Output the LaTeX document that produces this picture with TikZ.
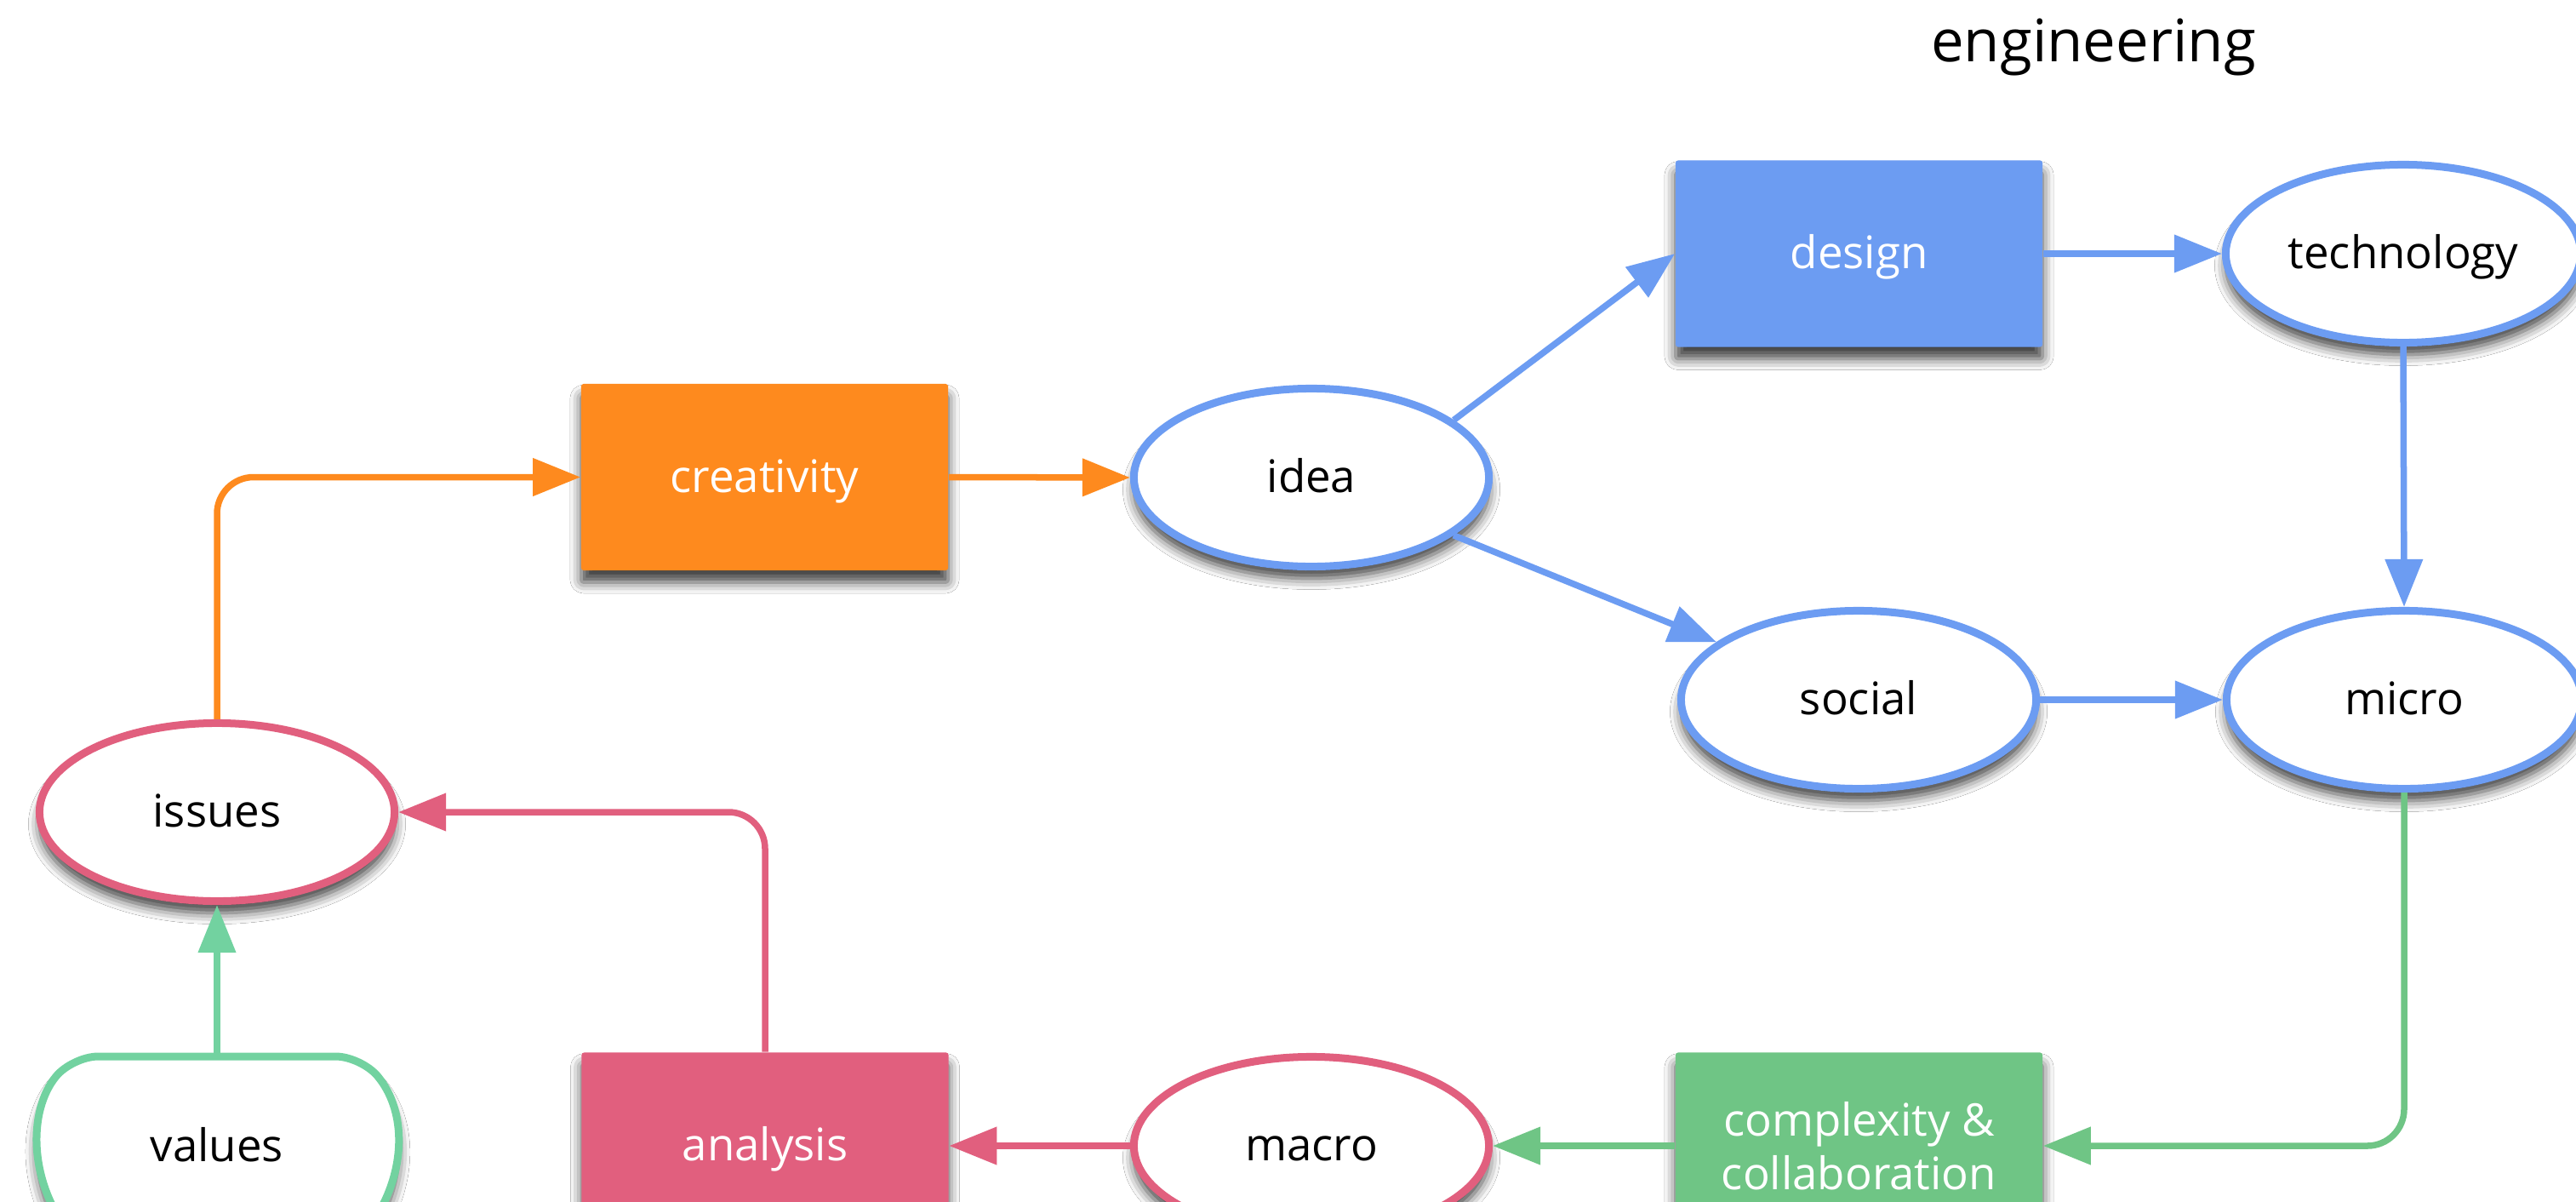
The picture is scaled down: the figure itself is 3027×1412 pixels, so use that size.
\documentclass[tikz,border=0pt]{standalone}
\usepackage{fontspec}
\setmainfont{Open Sans}
\usetikzlibrary{arrows.meta,shapes.geometric,shadows.blur}
\definecolor{cblue}{HTML}{6C9CF2}
\definecolor{corange}{HTML}{FE8A1E}
\definecolor{cpink}{HTML}{E15F7E}
\definecolor{cgreen}{HTML}{6FC585}
\definecolor{cmint}{HTML}{72D2A0}
\newcommand\nfont{\fontsize{15}{17.9}\selectfont}
\begin{document}
\begin{tikzpicture}[x=0.01cm,y=0.01cm,
  shad/.style={blur shadow={shadow xshift=0cm,shadow yshift=-0.14cm,shadow blur radius=0.13cm,shadow opacity=75}},
  onel/.style={text height=12.5pt, text depth=2.5pt},
  ell/.style={ellipse, draw=#1, line width=0.09cm, fill=white, minimum width=4.17cm, minimum height=2.09cm, inner sep=0pt, text=black, font=\nfont, onel, shad},
  box/.style={rectangle, fill=#1, minimum width=4.31cm, minimum height=2.19cm, inner sep=0pt, rounded corners=0.03cm, text=white, font=\nfont, align=center, shad},
  conn/.style={draw=#1, line width=0.075cm, -{Triangle[length=0.56cm,width=0.43cm]}, rounded corners=0.43cm}
]
\useasboundingbox (0,0) rectangle (3027,-1412);
\clip (0,0) rectangle (3027,-1412);
\fill[white] (0,0) rectangle (3027,-1412);

\node[anchor=base, font=\fontsize{19.6}{23}\selectfont] (title) at (2460,-72) {engineering};

\node[box=corange, onel] (creativity) at (898.5,-560.5) {creativity};
\node[ell=cblue] (idea) at (1541,-561) {idea};
\node[box=cblue, onel] (design) at (2184.5,-298) {design};
\node[ell=cblue] (technology) at (2824,-298) {technology};
\node[ell=cblue] (social) at (2184,-822) {social};
\node[ell=cblue] (micro) at (2825,-822) {micro};
\node[ell=cpink] (issues) at (255,-954) {issues};
\node[box=cpink, onel] (analysis) at (899,-1346) {analysis};
\node[ell=cpink] (macro) at (1541,-1346) {macro};
\node[box=cgreen] (complexity) at (2184.5,-1346) {complexity \&\\collaboration};

\path[draw=cmint, line width=0.09cm, fill=white, shad, rounded corners=0.3cm]
  (255,-1241) -- (424.4,-1241) arc[start angle=35.85, end angle=-215.85, x radius=2.09cm, y radius=1.81cm] -- cycle;
\node[font=\nfont, onel] (values) at (255,-1347) {values};
\coordinate (vtop) at (255,-1237);

\draw[conn=corange] (issues.north) |- (creativity.west);
\draw[conn=corange] (creativity.east) -- (idea.west);
\draw[conn=cblue] (idea.22) -- (design.west);
\draw[conn=cblue] (idea) -- (social);
\draw[conn=cblue] (design.east) -- (technology.west);
\draw[conn=cblue] (technology.south) -- (micro.north);
\draw[conn=cblue] (social.east) -- (micro.west);
\draw[conn=cgreen] (micro.south) |- (complexity.east);
\draw[conn=cgreen] (complexity.west) -- (macro.east);
\draw[conn=cpink] (macro.west) -- (analysis.east);
\draw[conn=cpink] (analysis.north) |- (issues.east);
\draw[conn=cmint] (vtop) -- (issues.south);
\end{tikzpicture}
\end{document}
